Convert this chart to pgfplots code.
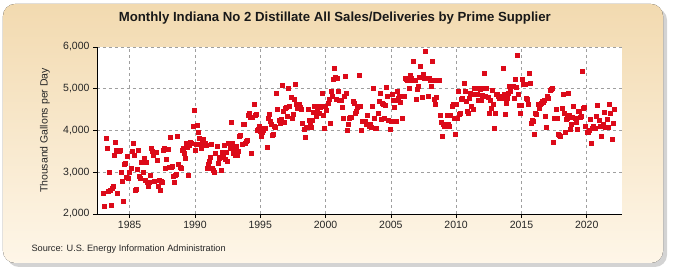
\documentclass[border=0pt]{standalone}
\usepackage{fontspec}
\setmainfont{Liberation Sans}
\usepackage{pgfplots}
\usepackage{pgfplotstable}
\pgfplotsset{compat=1.18}
\usetikzlibrary{shadows}

\definecolor{frametop}{RGB}{242,218,176}
\definecolor{framebot}{RGB}{254,246,232}
\definecolor{dotred}{RGB}{220,10,25}

% monthly sales, thousand gallons per day (m1 = January)
\pgfplotstableread{
year m1 m2 m3 m4 m5 m6 m7 m8 m9 m10 m11 m12
1983 2500 2180 3810 3570 2540 2990 2560 2220 2610 2660 3410 3720
1984 3540 2500 3500 3520 2990 2780 2300 3200 3220 2880 3390 2860
1985 3000 3100 3500 3700 3420 2560 2590 3080 3520 2900 2860 3230
1986 3010 3340 2820 3240 2770 2660 2770 2930 3580 3500 3420 2780
1987 3470 3280 2660 2820 2560 2780 2750 3520 3580 3100 3310 3560
1988 3120 3840 3120 3150 2900 2770 2930 2950 3860 3200 3120 3100
1989 3520 3580 3460 3330 3700 3600 2920 3650 3720 3700 4100 4490
1990 3520 3660 4120 3970 3810 3660 3570 3740 3800 3700 3650 3100
1991 3200 3260 3370 3680 3100 3040 3000 3460 3620 3220 3330 3350
1992 3040 3490 3390 3650 3310 3490 3260 3700 3570 4210 3700 3460
1993 3580 3420 3620 3420 3500 3860 3890 3660 4140 4140 3700 3740
1994 3760 4370 4420 4320 3460 4320 4640 4370 4380 4000 4020 4100
1995 3980 3860 3970 4000 4050 4050 3600 4290 4400 4220 4140 3890
1996 3920 4100 4080 4900 4500 4240 4170 4260 5090 4470 4210 4540
1997 4560 4340 5010 4580 4790 4290 4400 4740 5120 4640 4540 4610
1998 4620 4560 4500 4180 4020 3840 4080 4080 4500 4240 4160 4080
1999 4240 4450 4580 4340 4460 4580 4420 4560 4580 4900 4370 4060
2000 4580 4480 4660 4750 4180 4940 4820 5220 5490 5280 4740 5260
2001 4940 4720 4720 4560 4290 4820 5300 4900 4000 4160 4290 4320
2002 4320 4700 4650 4420 4460 4560 4580 5330 4580 4000 4220 4220
2003 4220 4140 4370 4160 4100 4140 4080 4580 5020 4300 4060 4060
2004 4420 4700 4900 4260 4660 4640 4290 4610 5040 4820 4240 4030
2005 4220 4860 4720 4560 4720 4220 4930 4770 4820 4680 4290 4820
2006 4820 5250 5220 5200 5200 5020 5330 5250 5200 5650 5200 4740
2007 4980 5060 5280 5540 5280 4800 5360 5260 5900 5260 4820 5260
2008 5200 5060 5660 5200 4740 4640 4800 5200 5200 4370 4210 3860
2009 4160 4100 4140 4160 4370 4160 4100 4370 4580 4640 4300 3920
2010 4640 4300 4940 4380 4420 4740 4780 5140 4940 4700 4460 4420
2011 4780 4900 4580 4860 4500 5020 4880 4860 4720 5020 4980 4720
2012 4840 5020 5380 4820 5020 4800 4420 4720 4540 4960 4640 4050
2013 4420 4880 4860 4820 4780 4820 4780 5500 4880 4400 4660 4780
2014 4900 5060 4940 5060 5060 4770 5220 5040 5810 4860 4610 4420
2015 4610 5220 5100 5100 4780 4740 4620 5380 5140 4180 4240 4220
2016 3900 4420 4380 4620 4540 4640 4660 4700 4680 4720 4340 4080
2017 4820 4780 4960 4980 5020 3730 4290 4290 4500 4290 3920 3890
2018 3860 4540 4860 4420 3970 4260 4300 4900 4370 4020 4160 4320
2019 4580 4300 4210 4020 4460 4460 4320 4340 5420 4540 4560 4100
2020 3970 3950 4000 4260 3690 4060 4100 4050 4050 4340 4610 4240
2021 4100 3860 4100 4140 4450 4080 4080 4260 4080 4620 4420 3790
2022 4180 4500 nan nan nan nan nan nan nan nan nan nan
}\sales

\begin{document}
\begin{tikzpicture}
\path[use as bounding box] (-97pt,-61pt) rectangle (578pt,214pt);
\fill[rounded corners=12pt, top color=frametop, bottom color=framebot,
  drop shadow={shadow xshift=4pt, shadow yshift=-4pt, opacity=0.35}]
  (-94pt,-49pt) rectangle (566pt,210pt);
\begin{axis}[
  at={(0pt,0pt)}, anchor=south west,
  scale only axis, width=525pt, height=167pt,
  xmin=1982.5, xmax=2022.7, ymin=2000, ymax=6000,
  axis background/.style={fill=white},
  axis x line*=bottom, axis y line*=left,
  axis line style={black, line width=0.8pt, -},
  xtick={1985,1990,...,2020}, ytick={2000,3000,...,6000},
  tick align=outside, major tick length=4pt,
  tick style={black, line width=0.6pt},
  xticklabel style={/pgf/number format/1000 sep={}},
  yticklabel style={/pgf/number format/1000 sep={,}},
  /pgf/number format/assume math mode=true,
  ticklabel style={font=\fontsize{10.5}{12}\selectfont, text=black!85},
  grid=major,
  major grid style={gray!75, dashed, line width=0.5pt},
  title={Monthly Indiana No 2 Distillate All Sales/Deliveries by Prime Supplier},
  title style={at={(rel axis cs:0.453,1)}, anchor=center, yshift=23pt,
    font=\bfseries\fontsize{13.2}{15}\selectfont, text=black!90},
  ylabel={Thousand Gallons per Day},
  ylabel style={at={(axis description cs:-0.099,0.5)}, anchor=center,
    font=\fontsize{10.5}{12}\selectfont, text=black!85},
  clip=false,
]
\pgfplotsinvokeforeach{1,...,12}{
  \addplot[only marks, mark=square*, mark size=2pt, color=dotred]
    table[x expr=\thisrow{year}+(#1-1)/12, y=m#1] {\sales};
}
\end{axis}
\node[anchor=west, font=\fontsize{9.2}{11}\selectfont, text=black!85]
  at (-69pt,-35pt) {Source: U.S. Energy Information Administration};
\end{tikzpicture}
\end{document}
